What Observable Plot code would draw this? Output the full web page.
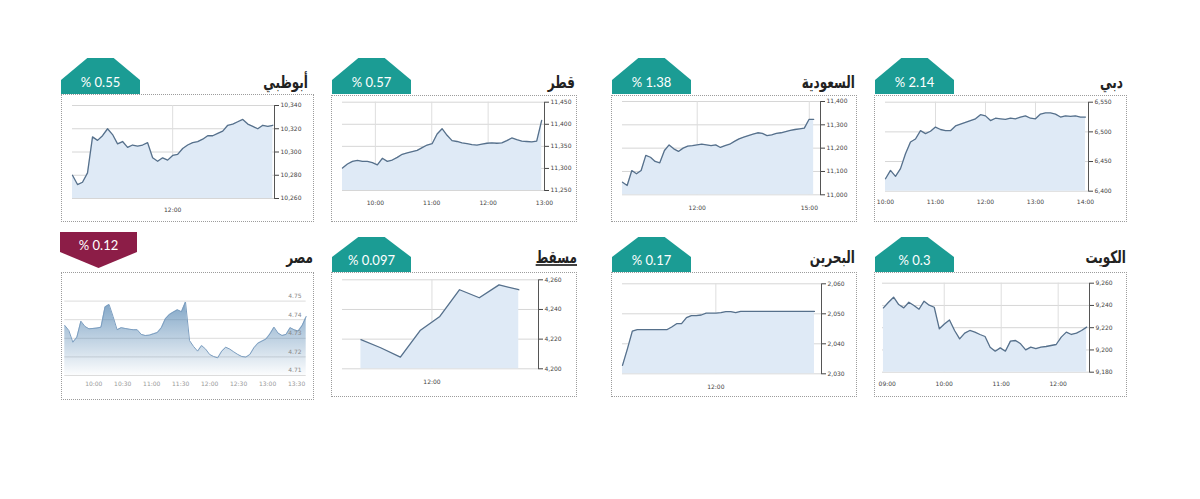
<!DOCTYPE html>
<html><head><meta charset="utf-8">
<script src="https://cdn.jsdelivr.net/npm/d3@7"></script>
<script src="https://cdn.jsdelivr.net/npm/@observablehq/plot@0.6"></script>
<style>
body{margin:0;background:#fff;}
#root{position:relative;width:1200px;height:499px;overflow:hidden;font-family:"DejaVu Sans",sans-serif;}
.box{position:absolute;border:1px dotted #9c9c9c;box-sizing:border-box;background:#fff;}
.plot{position:absolute;}
#overlay{position:absolute;left:0;top:0;}
</style></head><body><div id="root"></div>
<script>
// ---------- DATA ----------
const marketNames = ["أبوظبي","قطر","السعودية","دبي","مصر","مسقط","البحرين","الكويت"];
const changeLabels = ["% 0.55","% 0.57","% 1.38","% 2.14","% 0.12","% 0.097","% 0.17","% 0.3"];
const changeDirection = ["up","up","up","up","down","up","up","up"];

// times are minutes after midnight
const abuDhabiTimeSpan = [600, 840];
const abuDhabiValues = [10280,10272,10274,10282,10313,10310,10314,10320,10315,10307,10309,10304,10306,10305,10306,10308,10295,10292,10295,10293,10297,10298,10303,10306,10308,10309,10311,10314,10314,10316,10318,10323,10324,10326,10328,10324,10322,10320,10323,10322,10323];
const abuDhabiYTicks = [10260,10280,10300,10320,10340];
const abuDhabiXTicks = [720];
const abuDhabiXLabels = ["12:00"];

const qatarTimeSpan = [565, 777];
const qatarValues = [11301,11310,11316,11318,11316,11316,11313,11308,11323,11316,11319,11325,11332,11335,11338,11341,11347,11353,11356,11378,11390,11375,11363,11361,11358,11356,11354,11353,11355,11357,11358,11357,11358,11363,11369,11365,11362,11361,11360,11362,11409];
const qatarYTicks = [11250,11300,11350,11400,11450];
const qatarXTicks = [600,660,720,780];
const qatarXLabels = ["10:00","11:00","12:00","13:00"];

const saudiTimeSpan = [600, 907];
const saudiValues = [11054,11040,11104,11090,11104,11169,11161,11143,11137,11190,11214,11197,11186,11200,11209,11211,11214,11217,11214,11211,11214,11203,11211,11217,11229,11240,11247,11254,11260,11266,11263,11254,11257,11263,11266,11271,11276,11280,11283,11286,11323,11323];
const saudiYTicks = [11000,11100,11200,11300,11400];
const saudiXTicks = [720,900];
const saudiXLabels = ["12:00","15:00"];

const dubaiTimeSpan = [600, 840];
const dubaiValues = [6421,6435,6425,6438,6463,6483,6488,6502,6497,6501,6508,6504,6502,6502,6510,6513,6516,6519,6522,6529,6527,6519,6523,6522,6521,6523,6522,6525,6527,6523,6522,6530,6532,6532,6530,6525,6527,6526,6527,6525,6525];
const dubaiYTicks = [6400,6450,6500,6550];
const dubaiXTicks = [600,660,720,780,840];
const dubaiXLabels = ["10:00","11:00","12:00","13:00","14:00"];

const egyptTimeSpan = [570, 820];
const egyptValues = [4.7369,4.7342,4.7279,4.7306,4.7392,4.7364,4.7351,4.7353,4.7355,4.7360,4.7468,4.7482,4.7417,4.7346,4.7357,4.7353,4.7349,4.7346,4.7346,4.7321,4.7315,4.7317,4.7324,4.7331,4.7357,4.7405,4.7428,4.7441,4.7453,4.7443,4.7495,4.7288,4.7256,4.7231,4.7261,4.7242,4.7213,4.7202,4.7195,4.7231,4.7252,4.7242,4.7227,4.7213,4.7202,4.7199,4.7213,4.7249,4.7274,4.7285,4.7296,4.7324,4.7360,4.7328,4.7315,4.7321,4.7357,4.7346,4.7339,4.7369,4.7417];
const egyptYTicks = [4.71,4.72,4.73,4.74,4.75];
const egyptXTicks = [600,630,660,690,720,750,780,810];
const egyptXLabels = ["10:00","10:30","11:00","11:30","12:00","12:30","13:00","13:30"];

const muscatTimeSpan = [666, 786];
const muscatValues = [4219.6,4214.2,4207.9,4225.8,4235.3,4253.3,4247.9,4256.6,4253.3];
const muscatYTicks = [4200,4220,4240,4260];
const muscatXTicks = [720];
const muscatXLabels = ["12:00"];

const bahrainTimeSpan = [667, 776];
const bahrainValues = [2032.8,2038.3,2044.2,2044.7,2044.7,2044.7,2044.7,2044.7,2044.7,2044.7,2045.6,2046.7,2046.7,2048.7,2049.4,2049.4,2049.6,2050.2,2050.2,2050.2,2050.4,2050.7,2050.7,2050.4,2050.8,2050.8,2050.8,2050.8,2050.8,2050.8,2050.8,2050.8,2050.8,2050.8,2050.8,2050.8,2050.8,2050.8,2050.8,2050.8];
const bahrainYTicks = [2030,2040,2050,2060];
const bahrainXTicks = [720];
const bahrainXLabels = ["12:00"];

const kuwaitTimeSpan = [536, 750];
const kuwaitValues = [9237.8,9242.9,9247.4,9240.8,9237.8,9242.9,9239.9,9236.6,9243.8,9240.2,9238.4,9219,9223.4,9227,9217.5,9210,9215.1,9217.5,9216,9213.9,9212.1,9202.5,9198.9,9201.9,9198.9,9207.9,9208.5,9205.5,9200.1,9202.5,9201.3,9202.5,9203.1,9204,9204.9,9211.5,9216,9213.9,9215.1,9217.5,9220.5];
const kuwaitYTicks = [9180,9200,9220,9240,9260];
const kuwaitXTicks = [540,600,660,720];
const kuwaitXLabels = ["09:00","10:00","11:00","12:00"];

// ---------- LAYOUT (positions / styles) ----------
const layout = [
  {box:[61,94,314,222], plot:[72,105,274,198], xDomain:[600,842], xPad:9, tab:[61,58,79,36,22], title:[308,88]},
  {box:[331,95,577,222], plot:[342,101.7,544,190], xDomain:[565,780], xPad:10, tab:[332,58,79,36,22], title:[575,88]},
  {box:[611,95,857,222], plot:[622,101,820,194.3], xDomain:[600,918], xPad:11, tab:[612,58,79,36,22], title:[855,88]},
  {box:[874,95,1127,222], plot:[885,101.7,1088,190.7], xDomain:[600,843.6], xPad:9, tab:[875,58,79,36,22], title:[1123,88]},
  {box:[61,272,314,400], plot:[64.3,282,305.7,375], xDomain:[570,820], xPad:6, tab:[60,232,77,36,20], title:[313,263], yTop:4.76},
  {box:[331,272,577,397], plot:[342,279.3,538,368.3], xDomain:[652,801], xPad:11, tab:[332,237,79,35,20], title:[577,263], underline:true},
  {box:[611,272,857,397], plot:[622,283.3,821,373.3], xDomain:[667,780], xPad:11, tab:[612,237,79,35,20], title:[855,263]},
  {box:[874,272,1127,397], plot:[882,282.7,1089,371.7], xDomain:[535,753], xPad:10, tab:[875,237,79,35,20], title:[1126,263]}
];

const series = [
  {span: abuDhabiTimeSpan, values: abuDhabiValues, yTicks: abuDhabiYTicks, xTicks: abuDhabiXTicks, xLabels: abuDhabiXLabels},
  {span: qatarTimeSpan, values: qatarValues, yTicks: qatarYTicks, xTicks: qatarXTicks, xLabels: qatarXLabels},
  {span: saudiTimeSpan, values: saudiValues, yTicks: saudiYTicks, xTicks: saudiXTicks, xLabels: saudiXLabels},
  {span: dubaiTimeSpan, values: dubaiValues, yTicks: dubaiYTicks, xTicks: dubaiXTicks, xLabels: dubaiXLabels},
  {span: egyptTimeSpan, values: egyptValues, yTicks: egyptYTicks, xTicks: egyptXTicks, xLabels: egyptXLabels},
  {span: muscatTimeSpan, values: muscatValues, yTicks: muscatYTicks, xTicks: muscatXTicks, xLabels: muscatXLabels},
  {span: bahrainTimeSpan, values: bahrainValues, yTicks: bahrainYTicks, xTicks: bahrainXTicks, xLabels: bahrainXLabels},
  {span: kuwaitTimeSpan, values: kuwaitValues, yTicks: kuwaitYTicks, xTicks: kuwaitXTicks, xLabels: kuwaitXLabels}
];

const ns = "http://www.w3.org/2000/svg";
const root = document.getElementById("root");

series.forEach((s, k) => {
  const L = layout[k];
  const [bl, bt, br, bb] = L.box;
  const [pl, pt, pr, pb] = L.plot;
  const box = document.createElement("div");
  box.className = "box";
  Object.assign(box.style, {left: bl + "px", top: bt + "px", width: (br - bl) + "px", height: (bb - bt) + "px"});
  root.appendChild(box);

  const n = s.values.length;
  const data = s.values.map((v, i) => ({t: s.span[0] + i * (s.span[1] - s.span[0]) / (n - 1), v}));
  const labelMap = new Map(s.xTicks.map((t, i) => [t, s.xLabels[i]]));
  const yMin = s.yTicks[0];
  const yMax = L.yTop !== undefined ? L.yTop : s.yTicks[s.yTicks.length - 1];
  const isEgypt = changeDirection[k] === "down";
  const gridTicks = s.xTicks.filter(t => t > L.xDomain[0] + 10 && t < L.xDomain[1] - 5);

  let marks;
  if (isEgypt) {
    const defs = () => {
      const d = document.createElementNS(ns, "defs");
      d.innerHTML = '<linearGradient id="egGrad" x1="0" y1="0" x2="0" y2="1"><stop offset="0" stop-color="#4a7fae" stop-opacity="0.7"/><stop offset="1" stop-color="#4a7fae" stop-opacity="0.02"/></linearGradient>';
      return d;
    };
    marks = [
      defs,
      Plot.gridY(s.yTicks, {stroke: "#dcdcdc", strokeOpacity: 1}),
      Plot.areaY(data, {x: "t", y1: yMin, y2: "v", fill: "url(#egGrad)"}),
      Plot.lineY(data, {x: "t", y: "v", stroke: "#7c9ec0", strokeWidth: 1}),
      Plot.axisY(s.yTicks, {anchor: "right", label: null, tickSize: 0, tickPadding: 0, dx: -18, dy: -5, tickFormat: d3.format(".2f"), fill: "#888"}),
      Plot.axisX(s.xTicks, {anchor: "bottom", label: null, tickSize: 0, tickPadding: L.xPad, tickFormat: d => labelMap.get(d), fill: "#999"})
    ];
  } else {
    marks = [
      Plot.gridY(s.yTicks, {stroke: "#d6d6d6", strokeOpacity: 1}),
      Plot.gridX(gridTicks, {stroke: "#dedede", strokeOpacity: 1}),
      Plot.areaY(data, {x: "t", y1: yMin, y2: "v", fill: "#dfeaf6"}),
      Plot.lineY(data, {x: "t", y: "v", stroke: "#56708b", strokeWidth: 1.3}),
      Plot.frame({anchor: "right", stroke: "#555"}),
      Plot.axisY(s.yTicks, {anchor: "right", label: null, tickSize: 4, tickPadding: 2, tickFormat: d3.format(","), color: "#444"}),
      Plot.axisX(s.xTicks, {anchor: "bottom", label: null, tickSize: 0, tickPadding: L.xPad, tickFormat: d => labelMap.get(d), color: "#444"})
    ];
  }

  const svg = Plot.plot({
    width: br - bl,
    height: bb - bt,
    marginLeft: pl - bl,
    marginRight: br - pr,
    marginTop: pt - bt,
    marginBottom: bb - pb,
    x: {domain: L.xDomain, axis: null},
    y: {domain: [yMin, yMax], axis: null},
    style: {background: "transparent", overflow: "visible", fontSize: "6px", fontFamily: "DejaVu Sans, sans-serif"},
    marks
  });
  svg.classList.add("plot");
  svg.style.position = "absolute";
  svg.style.left = bl + "px";
  svg.style.top = bt + "px";
  root.appendChild(svg);
});

// overlay: tabs and titles
const ov = document.createElementNS(ns, "svg");
ov.setAttribute("id", "overlay");
ov.setAttribute("width", 1200);
ov.setAttribute("height", 499);
let html = "";
layout.forEach((L, k) => {
  const [x, y, w, h, sh] = L.tab;
  if (changeDirection[k] === "down") {
    html += `<path d="M${x},${y} L${x+w},${y} L${x+w},${y+sh} L${x+w/2},${y+h} L${x},${y+sh} Z" fill="#8c1d47"/>`;
    html += `<text x="${x+w/2}" y="${y+17.5}" text-anchor="middle" fill="#fff" font-family="Lato, sans-serif" font-size="13">${changeLabels[k]}</text>`;
  } else {
    const top = w / 3;
    html += `<path d="M${x},${y+h} L${x},${y+sh} L${x+top},${y} L${x+w-top},${y} L${x+w},${y+sh} L${x+w},${y+h} Z" fill="#1b9c94"/>`;
    html += `<text x="${x+w/2}" y="${y+h-7.5}" text-anchor="middle" fill="#fff" font-family="Lato, sans-serif" font-size="13">${changeLabels[k]}</text>`;
  }
  const [tx, ty] = L.title;
  html += `<text transform="translate(${tx},${ty}) scale(0.71,1)" x="0" y="0" text-anchor="end" fill="#222" font-family="DejaVu Sans, sans-serif" font-weight="bold" font-size="17"${L.underline ? ' text-decoration="underline"' : ''}>${marketNames[k]}</text>`;
});
ov.innerHTML = html;
root.appendChild(ov);
</script></body></html>
